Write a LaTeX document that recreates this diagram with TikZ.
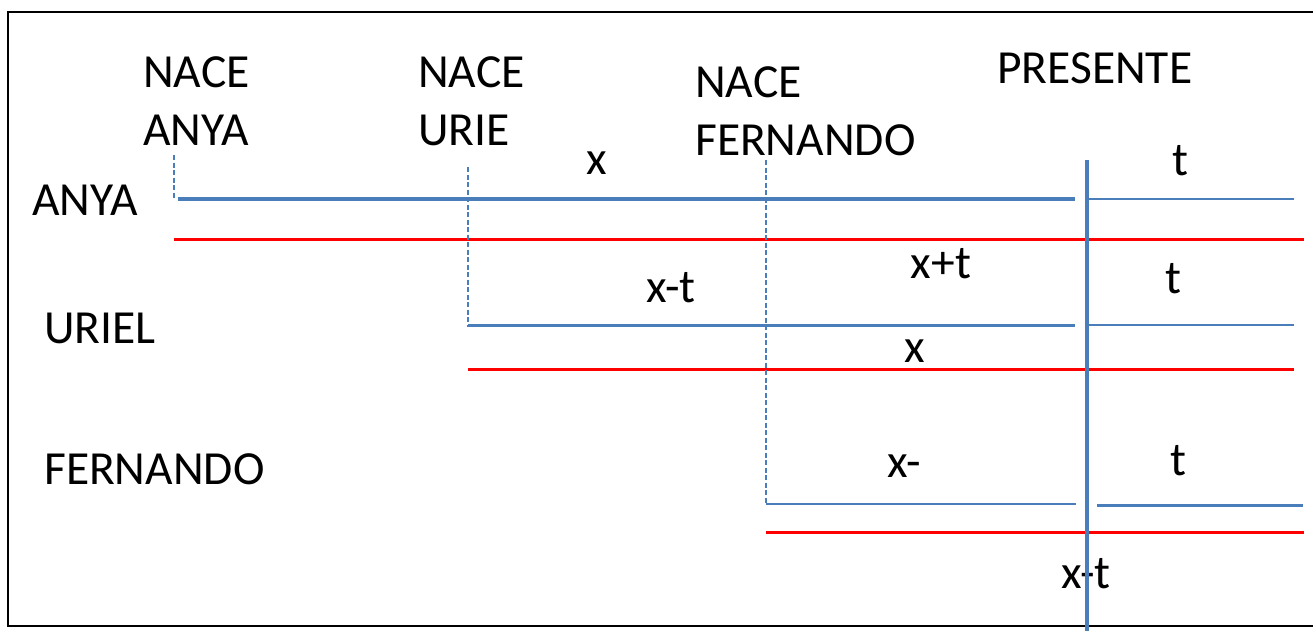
\documentclass[tikz,border=0pt]{standalone}
\usepackage{fontspec}
\setmainfont{Carlito}
\definecolor{lblue}{HTML}{4A7EBB}
\definecolor{lred}{HTML}{FF0000}
\begin{document}
\begin{tikzpicture}[x=1pt,y=-1pt,
  lbl/.style={inner sep=0pt,anchor=base west,font=\fontsize{47.5}{56}\selectfont},
  clbl/.style={inner sep=0pt,anchor=base,font=\fontsize{47.5}{56}\selectfont},
  thickblue/.style={draw=lblue,line width=3.2pt},
  thinblue/.style={draw=lblue,line width=2.2pt},
  birth/.style={draw=lblue,line width=2pt,dash pattern=on 5pt off 2.5pt},
  redline/.style={draw=lred,line width=3pt}]
\useasboundingbox (0,0) rectangle (1313,630);
\draw[line width=2.6pt] (8,12) rectangle (1320,626);
% labels
\node[lbl] (na1) at (143,87) {NACE};
\node[lbl] (na2) at (143,145) {ANYA};
\node[lbl] (nu1) at (418,87) {NACE};
\node[lbl] (nu2) at (418,145) {URIE};
\node[lbl] (nf1) at (695,97) {NACE};
\node[lbl] (nf2) at (695,155) {FERNANDO};
\node[lbl] (pres) at (997,83) {PRESENTE};
\node[lbl] (ra) at (32,215) {ANYA};
\node[lbl] (ru) at (44,343) {URIEL};
\node[lbl] (rf) at (44,484) {FERNANDO};
\node[clbl] (x1) at (597,174) {x};
\node[clbl] (t1) at (1180,175) {t};
\node[clbl] (xpt) at (941,278) {x+t};
\node[clbl] (xmt) at (671,302) {x-t};
\node[clbl] (t2) at (1173,293) {t};
\node[clbl] (x2) at (915,362) {x};
\node[clbl] (xm) at (904,477) {x-};
\node[clbl] (t3) at (1178,475) {t};
\node[clbl] (xmt2) at (1086,588) {x-t};
% coordinates
\coordinate (a0) at (174,155);
\coordinate (a1) at (174,199);
\coordinate (a2) at (178,199);
\coordinate (a3) at (1075,199);
\coordinate (a4) at (1089,199);
\coordinate (a5) at (1294,199);
\coordinate (ra0) at (174,239);
\coordinate (ra1) at (1304,239);
\coordinate (u0) at (468,167);
\coordinate (u1) at (468,327);
\coordinate (u2) at (468,325.5);
\coordinate (u3) at (1075,325.5);
\coordinate (u4) at (1089,325);
\coordinate (u5) at (1294,325);
\coordinate (ru0) at (468,369);
\coordinate (ru1) at (1294,369);
\coordinate (f0) at (766,160);
\coordinate (f1) at (766,504);
\coordinate (f3) at (1076,504);
\coordinate (f4) at (1097,505.5);
\coordinate (f5) at (1303,505.5);
\coordinate (rf0) at (766,532);
\coordinate (rf1) at (1304,532);
\coordinate (p0) at (1087,160);
\coordinate (p1) at (1087,632);
% lines
\draw[birth] (a0) -- (a1);
\draw[thickblue] (a2) -- (a3);
\draw[thinblue] (a4) -- (a5);
\draw[redline] (ra0) -- (ra1);
\draw[birth] (u0) -- (u1);
\draw[thinblue] (u2) -- (u3);
\draw[thinblue] (u4) -- (u5);
\draw[redline] (ru0) -- (ru1);
\draw[birth] (f0) -- (f1);
\draw[thinblue] (f1) -- (f3);
\draw[thinblue] (f4) -- (f5);
\draw[redline] (rf0) -- (rf1);
\draw[draw=lblue,line width=3.2pt] (p0) -- (p1);
\end{tikzpicture}
\end{document}
